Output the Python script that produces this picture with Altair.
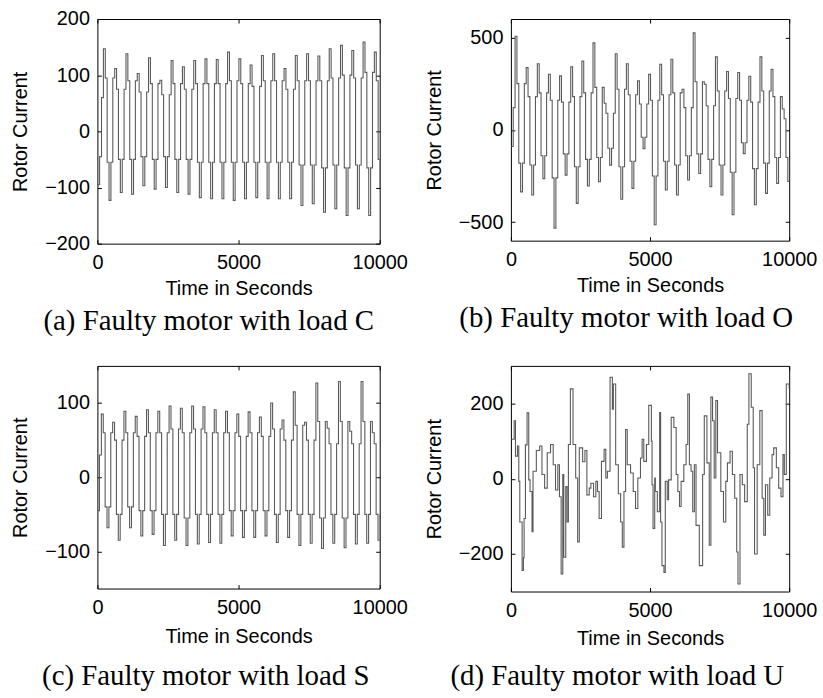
import altair as alt
import pandas as pd

# ---------------- data ----------------
CYCLE = 400.0          # seconds per oscillation
STEP = CYCLE / 6.0     # one held sample

# (a) load C
a_first_peak = 212
a_lead = [-95, -45, 60]
a_peaks = [147, 112, 138, 103, 131, 91, 126, 115, 126, 129, 128, 141, 129,
           118, 135, 138, 112, 135, 138, 134, 147, 153, 144, 159, 141]
a_hi = [95, 75, 90, 70, 85, 65, 85, 75, 85, 85, 85, 90, 85,
        80, 90, 90, 75, 90, 90, 90, 95, 100, 95, 105, 90]
a_lo = [-55, -50, -50, -45, -50, -45, -50, -50, -55, -55, -55, -55, -55,
        -55, -55, -55, -55, -60, -60, -65, -60, -65, -60, -65, -50]
a_troughs = [-123, -109, -112, -97, -103, -100, -109, -112, -118, -120, -120, -123, -120,
             -118, -120, -120, -120, -132, -129, -144, -138, -150, -138, -150, -100]

# (b) load O
b_first_peak = 150
b_lead = [-90, 120]
b_peaks = [507, 337, 358, 301, 292, 341, 373, 471, 144, 412, 358, 265, 300,
           355, 382, 220, 525, 247, 395, 316, 310, 290, 395, 328, 113]
b_hi = [250, 180, 200, 160, 150, 180, 200, 230, 90, 220, 190, 140, 160,
        190, 200, 120, 260, 130, 210, 170, 160, 150, 210, 180, 60]
b_lo = [-180, -190, -140, -260, -130, -200, -160, -150, -100, -200, -170, -40, -250,
        -170, -190, -140, -130, -160, -190, -230, -70, -210, -180, -150, -150]
b_troughs = [-336, -353, -264, -532, -245, -398, -304, -281, -191, -376, -317, -102, -514,
             -326, -353, -272, -236, -308, -353, -460, -129, -406, -344, -290, -280]

# (c) load S
c_first_peak = 140
c_lead = [-45, 30]
c_peaks = [85, 74, 89, 82, 91, 89, 96, 93, 96, 95, 91, 89, 85,
           88, 81, 100, 77, 115, 74, 127, 66, 129, 62, 129, 60]
c_hi = [60, 50, 60, 55, 60, 60, 65, 60, 65, 60, 60, 60, 55,
        60, 55, 65, 50, 70, 50, 75, 45, 75, 45, 75, 45]
c_lo = [-40, -50, -40, -45, -45, -50, -50, -55, -50, -50, -50, -45, -45,
        -45, -45, -50, -45, -50, -50, -55, -50, -55, -50, -50, -50]
c_troughs = [-68, -85, -68, -79, -77, -92, -85, -92, -90, -88, -89, -79, -81,
             -81, -79, -88, -81, -92, -89, -96, -89, -95, -90, -89, -85]

# (d) load U  (irregular, read point by point)
d_time = [23, 118, 165, 237, 284, 320, 403, 450, 474, 522, 581, 641, 688, 759, 795,
          914, 1033, 1116, 1211, 1306, 1425, 1520, 1603, 1686, 1745, 1805, 1864, 1900,
          1971, 2019, 2066, 2137, 2232, 2328, 2399, 2458, 2577, 2660, 2731, 2815, 2874,
          2969, 3052, 3112, 3171, 3254, 3349, 3409, 3468, 3563, 3646, 3682, 3765, 3860,
          3943, 4003, 4062, 4121, 4181, 4300, 4395, 4478, 4561, 4656, 4715, 4775, 4870,
          4953, 5048, 5072, 5107, 5167, 5190, 5262, 5345, 5380, 5428, 5499, 5547, 5618,
          5666, 5761, 5856, 5939, 5998, 6058, 6117, 6212, 6295, 6355, 6414, 6473, 6533,
          6592, 6652, 6770, 6889, 6949, 7044, 7127, 7186, 7246, 7305, 7364, 7424, 7543,
          7638, 7721, 7780, 7875, 7958, 8041, 8113, 8160, 8232, 8315, 8398, 8493, 8552,
          8636, 8707, 8754, 8849, 8944, 9027, 9087, 9146, 9229, 9301, 9384, 9443, 9538,
          9622, 9705, 9776, 9824, 9895, 10000]
d_value = [105, 154, 60, 87, -7, -115, -244, -210, -106, 90, 175, -3, -34, -141, 20,
           75, 87, 11, -25, 69, 91, 37, -30, 37, -48, -253, 11, -209,
           -21, -115, 91, 239, 91, 2, -168, 82, 45, 75, -43, -25, -12,
           -48, -7, -34, -106, 46, 78, 2, 20, 270, 185, 252, 37, -40,
           -115, -182, -34, 131, 37, 15, -34, -79, 2, 55, 105, 46, 91,
           195, 100, -16, -132, 2, -34, -88, 176, -115, -231, -249, -7, -56,
           -3, 163, 136, 11, -34, -74, -7, 37, 91, 225, 37, 20, -88,
           37, -124, -231, 11, 167, 42, -177, 217, 154, 2, 208, 69, -34,
           -115, -7, 42, 73, 11, -52, -195, -280, 11, -16, -61, 145, 279,
           190, 29, -200, 37, 181, -52, -150, -16, -97, 2, 64, 82, 29,
           -25, -48, 64, 11, 252, 240]

x_ticks = [0, 5000, 10000]


def cyclic_frame(first_peak, lead, peaks, hi, lo, troughs):
    vals = list(lead)
    for p, h, l, tr in zip(peaks, hi, lo, troughs):
        vals += [p, h, l, tr, l, h]
    t0 = first_peak - len(lead) * STEP
    return pd.DataFrame({"t": [t0 + i * STEP for i in range(len(vals))], "v": vals})


df_a = cyclic_frame(a_first_peak, a_lead, a_peaks, a_hi, a_lo, a_troughs)
df_b = cyclic_frame(b_first_peak, b_lead, b_peaks, b_hi, b_lo, b_troughs)
df_c = cyclic_frame(c_first_peak, c_lead, c_peaks, c_hi, c_lo, c_troughs)
df_d = pd.DataFrame({"t": d_time, "v": d_value})

FONT = "Liberation Sans"
tick_style = dict(tickSize=4, offset=-4, domain=False, tickColor="black",
                  tickWidth=1, grid=False)


def panel(df, ydom, yvals, w, h, caption, dx, cap_offset, xtitle_pad):
    xs = alt.Scale(domain=[0, 10000], nice=False, zero=False)
    ys = alt.Scale(domain=ydom, nice=False, zero=False)
    line = alt.Chart(df).mark_line(
        interpolate="step-after", color="#5a5a5a", strokeWidth=1.1, clip=True
    ).encode(
        x=alt.X("t:Q", scale=xs, axis=alt.Axis(
            values=x_ticks, title="Time in Seconds", labelPadding=9,
            titlePadding=xtitle_pad, labelFlush=False, labelOverlap=False,
            labelFont=FONT, labelFontSize=20, labelColor="black", titleFont=FONT,
            titleFontSize=20, titleFontWeight="normal", titleColor="black",
            format="d", **tick_style)),
        y=alt.Y("v:Q", scale=ys, axis=alt.Axis(
            values=yvals, title="Rotor Current", labelPadding=8, titlePadding=14,
            labelOverlap=False, labelFont=FONT, labelFontSize=20, labelColor="black",
            titleFont=FONT, titleFontSize=20, titleFontWeight="normal",
            titleColor="black", format="d", **tick_style)),
    )
    ghost = alt.Chart(df).mark_line(opacity=0).encode(
        x=alt.X("t:Q", scale=xs, axis=alt.Axis(
            orient="top", values=x_ticks, labels=False, title=None, **tick_style)),
        y=alt.Y("v:Q", scale=ys, axis=alt.Axis(
            orient="right", values=yvals, labels=False, title=None, **tick_style)),
    )
    return alt.layer(line, ghost).resolve_axis(x="independent", y="independent").properties(
        width=w, height=h,
        title=alt.TitleParams(caption, orient="bottom", anchor="middle", frame="group",
                              dx=dx, offset=cap_offset, font="Liberation Serif",
                              fontSize=29, fontWeight="normal", color="black"),
    )


pa = panel(df_a, [-200, 200], [-200, -100, 0, 100, 200], 284, 226,
           "(a) Faulty motor with load C", -30, 9, 6)
pb = panel(df_b, [-600, 600], [-500, 0, 500], 280, 223,
           "(b) Faulty motor with load O", -24, 9, 6)
pc = panel(df_c, [-150, 150], [-100, 0, 100], 284, 224,
           "(c) Faulty motor with load S", -33, 16, 9)
pdd = panel(df_d, [-300, 300], [-200, 0, 200], 280, 227,
            "(d) Faulty motor with load U", -33, 14, 8)

chart = alt.concat(pa, pb, pc, pdd, columns=2, spacing={"row": 123, "column": 132},
                   bounds="flush").properties(
    padding={"left": 10, "top": 6, "right": 5, "bottom": 5},
    background="white",
).configure_view(stroke="black", strokeWidth=1)

chart.save("out.html", embed_options={"renderer": "svg", "actions": False})
